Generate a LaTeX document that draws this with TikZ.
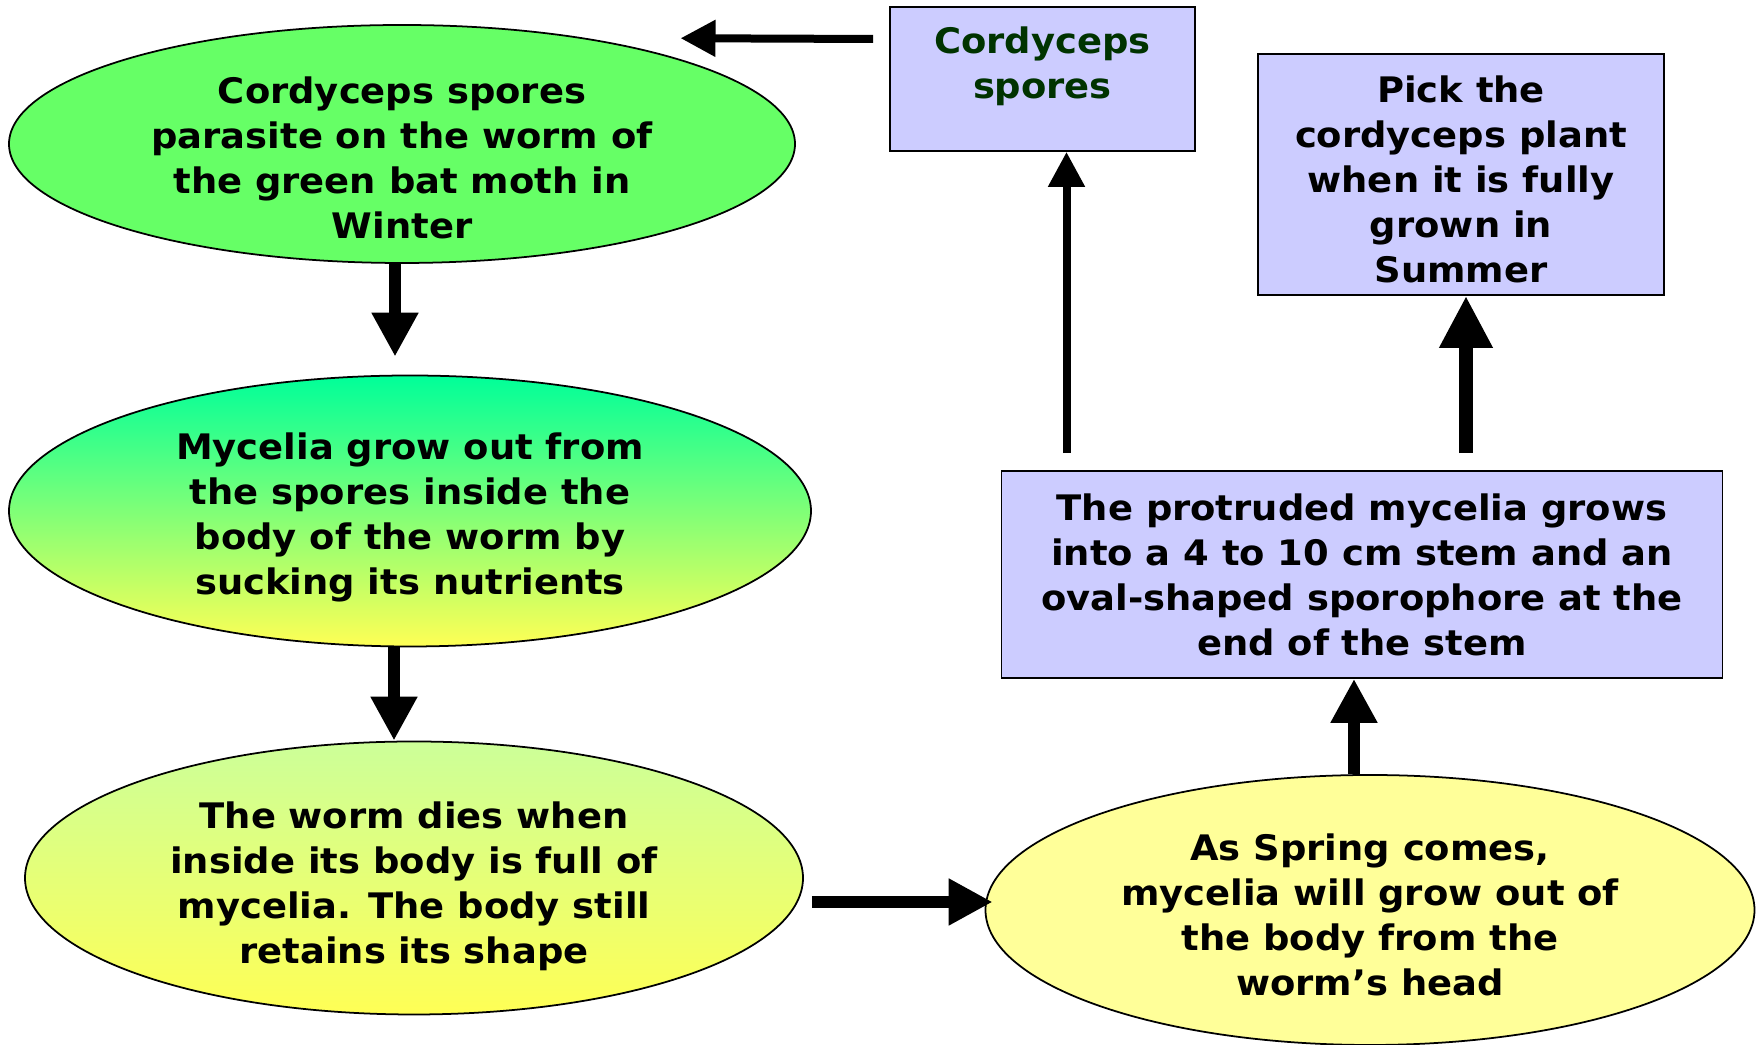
\documentclass[tikz,border=0pt]{standalone}
\usepackage{fontspec}
\setmainfont{DejaVu Sans}[FakeStretch=1.05]
\usetikzlibrary{shapes.geometric, arrows.meta, positioning}

\definecolor{wintergreen}{HTML}{66FF66}
\definecolor{tealgreen}{HTML}{00FF99}
\definecolor{limegreen}{HTML}{C8FF78}
\definecolor{lemonyellow}{HTML}{FFFF55}
\definecolor{palegreen}{HTML}{CCFF99}
\definecolor{springyellow}{HTML}{FFFF99}
\definecolor{boxblue}{HTML}{CCCCFF}
\definecolor{sporegreen}{HTML}{003300}

\newcommand{\stagefont}{\fontsize{10}{12.8}\selectfont\bfseries}

\tikzset{
  oval/.style={ellipse, draw, line width=0.5pt, inner sep=0pt, align=center, font=\stagefont},
  panel/.style={rectangle, draw, line width=0.5pt, fill=boxblue, inner sep=0pt, align=center, font=\stagefont},
  thinarrow/.style={line width=0.8mm, -{Triangle[length=3.5mm, width=3.5mm]}},
  midarrow/.style={line width=1.15mm, -{Triangle[length=4.4mm, width=4.4mm]}},
  thickarrow/.style={line width=1.4mm, -{Triangle[length=5.2mm, width=5mm]}}
}

\begin{document}
\begin{tikzpicture}[x=0.1mm, y=-0.1mm]
  \useasboundingbox (0,0) rectangle (1758,1045);

  % Left column (Winter to the dead worm)
  \node[oval, fill=wintergreen, minimum width=78.6mm, minimum height=23.8mm] (winter) at (402,144) {};
  \node[font=\stagefont, align=center] (wintertext) at ([yshift=-1.4mm]winter.center)
    {Cordyceps spores\\parasite on the worm of\\the green bat moth in\\Winter};
  \node[oval, top color=tealgreen, middle color=limegreen, bottom color=lemonyellow,
        minimum width=80.2mm, minimum height=27.1mm, text height=49.4pt] (grow) at (410,511)
    {Mycelia grow out from\\the spores inside the\\body of the worm by\\sucking its nutrients};
  \node[oval, top color=palegreen, bottom color=lemonyellow,
        minimum width=77.8mm, minimum height=27.3mm, text height=50.6pt] (dies) at (414,878)
    {The worm dies when\\inside its body is full of\\mycelia. The body still\\retains its shape};

  % Right column (Spring to Summer)
  \node[oval, fill=springyellow, minimum width=76.9mm, minimum height=27mm, text height=48.6pt] (spring) at (1370,910)
    {As Spring comes,\\mycelia will grow out of\\the body from the\\worm’s head};
  \node[panel, minimum width=72.1mm, minimum height=20.7mm] (stem) at (1362,574.5)
    {The protruded mycelia grows\\into a 4 to 10 cm stem and an\\oval-shaped sporophore at the\\end of the stem};
  \node[panel, minimum width=40.6mm, minimum height=24.1mm, text height=61.4pt] (pick) at (1461,174.5)
    {Pick the\\cordyceps plant\\when it is fully\\grown in\\Summer};
  \node[panel, minimum width=30.5mm, minimum height=14.4mm] (spores) at (1042.5,79) {};
  \node[font=\stagefont, text=sporegreen, align=center] (sporestext) at ([yshift=1.3mm]spores.center)
    {Cordyceps\\spores};

  % Arrows
  \draw[midarrow, shorten >=1.8mm] ([xshift=-0.7mm]winter.south) -- ([xshift=-0.7mm]winter.south |- grow.north);
  \draw[midarrow] ([xshift=-1.6mm]grow.south) -- ([xshift=-1.6mm]grow.south |- dies.north);
  \draw[midarrow] ([shift={(8,24)}]dies.east) -- ([shift={(8,24)}]dies.east -| spring.west);
  \draw[midarrow] ([xshift=-1.6mm]spring.north) -- ([xshift=-1.6mm]spring.north |- stem.south);
  \draw[thinarrow, shorten <=1.7mm] ([xshift=2.4mm]spores.south |- stem.north) -- ([xshift=2.4mm]spores.south);
  \draw[thickarrow, shorten <=1.7mm] ([xshift=0.5mm]pick.south |- stem.north) -- ([xshift=0.5mm]pick.south);
  \draw[thinarrow] ([shift={(-16,-40)}]spores.west) -- ([yshift=2.1mm]winter.north east);
\end{tikzpicture}
\end{document}
